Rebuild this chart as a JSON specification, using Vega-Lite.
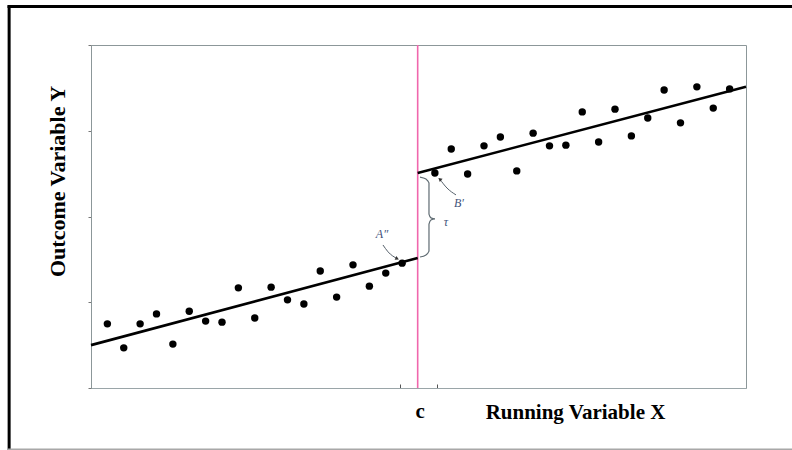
{
  "$schema": "https://vega.github.io/schema/vega-lite/v6.json",
  "autosize": {"type": "none"},
  "padding": {"left": 91, "top": 45, "right": 46, "bottom": 62},
  "width": 655,
  "height": 343,
  "background": "white",
  "config": {
    "view": {"stroke": "#8c9799", "strokeWidth": 1},
    "axis": {"grid": false}
  },
  "datasets": {
    "pts": [
      {"x": 1, "y": 18.7}, {"x": 2, "y": 11.7}, {"x": 3, "y": 18.7}, {"x": 4, "y": 21.6},
      {"x": 5, "y": 12.8}, {"x": 6, "y": 22.4}, {"x": 7, "y": 19.5}, {"x": 8, "y": 19.2},
      {"x": 9, "y": 29.2}, {"x": 10, "y": 20.4}, {"x": 11, "y": 29.4}, {"x": 12, "y": 25.7},
      {"x": 13, "y": 24.5}, {"x": 14, "y": 34.1}, {"x": 15, "y": 26.5}, {"x": 16, "y": 35.9},
      {"x": 17, "y": 29.7}, {"x": 18, "y": 33.5}, {"x": 19, "y": 36.4},
      {"x": 21, "y": 62.7}, {"x": 22, "y": 69.7}, {"x": 23, "y": 62.4}, {"x": 24, "y": 70.6},
      {"x": 25, "y": 73.2}, {"x": 26, "y": 63.3}, {"x": 27, "y": 74.3}, {"x": 28, "y": 70.6},
      {"x": 29, "y": 70.8}, {"x": 30, "y": 80.5}, {"x": 31, "y": 71.7}, {"x": 32, "y": 81.3},
      {"x": 33, "y": 73.5}, {"x": 34, "y": 78.7}, {"x": 35, "y": 86.9}, {"x": 36, "y": 77.3},
      {"x": 37, "y": 87.8}, {"x": 38, "y": 81.6}, {"x": 39, "y": 87.2}
    ],
    "fit": [
      {"side": "left", "x": 0, "y": 12.5}, {"side": "left", "x": 19.95, "y": 37.9},
      {"side": "right", "x": 19.95, "y": 62.7}, {"side": "right", "x": 40, "y": 87.8}
    ],
    "brace": [
      {"o": 1, "x": 20.09, "y": 61.5}, {"o": 2, "x": 20.46, "y": 60.9}, {"o": 3, "x": 20.64, "y": 59.8},
      {"o": 4, "x": 20.64, "y": 50.7}, {"o": 5, "x": 20.76, "y": 49.6}, {"o": 6, "x": 21.01, "y": 49.3},
      {"o": 7, "x": 20.76, "y": 49.0}, {"o": 8, "x": 20.64, "y": 47.8}, {"o": 9, "x": 20.64, "y": 39.9},
      {"o": 10, "x": 20.46, "y": 38.8}, {"o": 11, "x": 20.09, "y": 38.2}
    ],
    "arrows": [
      {"a": "B", "o": 1, "x": 22.29, "y": 56.3}, {"a": "B", "o": 2, "x": 21.74, "y": 58.3}, {"a": "B", "o": 3, "x": 21.3, "y": 60.9},
      {"a": "A", "o": 1, "x": 17.83, "y": 41.7}, {"a": "A", "o": 2, "x": 18.14, "y": 39.7}, {"a": "A", "o": 3, "x": 18.7, "y": 37.7}
    ],
    "heads": [
      {"x": 21.3, "y": 60.9, "ang": -50},
      {"x": 18.7, "y": 37.7, "ang": 115}
    ],
    "labels": [
      {"t": "A″", "x": 17.77, "y": 44.9},
      {"t": "B′", "x": 22.47, "y": 53.9},
      {"t": "τ", "x": 21.68, "y": 48.4}
    ],
    "one": [{}]
  },
  "layer": [
    {
      "data": {"name": "pts"},
      "mark": {"type": "point", "filled": true, "color": "black", "opacity": 1, "size": 55},
      "encoding": {
        "x": {"field": "x", "type": "quantitative", "scale": {"domain": [0, 40], "nice": false, "zero": false},
          "axis": {"values": [18.9, 21.1], "labels": false, "tickSize": -4, "tickColor": "#555", "domainColor": "#9aa5a8",
            "title": "Running Variable X", "titleFont": "Liberation Serif", "titleFontWeight": "bold", "titleFontSize": 21,
            "titleColor": "black", "titleX": 484, "titleY": 30, "titleAlign": "center", "titleBaseline": "alphabetic"}},
        "y": {"field": "y", "type": "quantitative", "scale": {"domain": [0, 100], "nice": false},
          "axis": {"values": [0, 25, 50, 75, 100], "labels": false, "tickSize": 3, "tickColor": "#777", "domainColor": "#8c9799",
            "title": "Outcome Variable Y", "titleFont": "Liberation Serif", "titleFontWeight": "bold", "titleFontSize": 22,
            "titleColor": "black", "titleAngle": -90, "titleX": -34, "titleY": 136, "titleAlign": "center", "titleBaseline": "middle"}}
      }
    },
    {
      "data": {"name": "one"},
      "mark": {"type": "rule", "color": "#f067ad", "strokeWidth": 1.6},
      "encoding": {"x": {"datum": 19.95, "type": "quantitative"}}
    },
    {
      "data": {"name": "fit"},
      "mark": {"type": "line", "color": "black", "strokeWidth": 2.6},
      "encoding": {
        "x": {"field": "x", "type": "quantitative"},
        "y": {"field": "y", "type": "quantitative"},
        "detail": {"field": "side"}
      }
    },
    {
      "data": {"name": "brace"},
      "mark": {"type": "line", "color": "#5f6b72", "strokeWidth": 1.2, "interpolate": "monotone"},
      "encoding": {
        "x": {"field": "x", "type": "quantitative"},
        "y": {"field": "y", "type": "quantitative"},
        "order": {"field": "o"}
      }
    },
    {
      "data": {"name": "arrows"},
      "mark": {"type": "line", "color": "#55606a", "strokeWidth": 1, "interpolate": "monotone"},
      "encoding": {
        "x": {"field": "x", "type": "quantitative"},
        "y": {"field": "y", "type": "quantitative"},
        "detail": {"field": "a"},
        "order": {"field": "o"}
      }
    },
    {
      "data": {"name": "heads"},
      "mark": {"type": "point", "shape": "triangle-up", "filled": true, "color": "#333", "opacity": 1, "size": 18},
      "encoding": {
        "x": {"field": "x", "type": "quantitative"},
        "y": {"field": "y", "type": "quantitative"},
        "angle": {"field": "ang", "type": "quantitative", "scale": null}
      }
    },
    {
      "data": {"name": "labels"},
      "mark": {"type": "text", "font": "Liberation Serif", "fontStyle": "italic", "fontSize": 12, "color": "#42527a"},
      "encoding": {
        "x": {"field": "x", "type": "quantitative"},
        "y": {"field": "y", "type": "quantitative"},
        "text": {"field": "t"}
      }
    },
    {
      "data": {"name": "one"},
      "mark": {"type": "text", "font": "Liberation Serif", "fontWeight": "bold", "fontSize": 21, "color": "black", "clip": false, "baseline": "alphabetic"},
      "encoding": {
        "x": {"datum": 20.1, "type": "quantitative"},
        "y": {"datum": -8.8, "type": "quantitative"},
        "text": {"value": "c"}
      }
    },
    {
      "data": {"name": "one"},
      "mark": {"type": "rule", "color": "black", "strokeWidth": 3, "clip": false},
      "encoding": {
        "x": {"datum": -5.0, "type": "quantitative"},
        "y": {"datum": 111.5, "type": "quantitative"},
        "y2": {"datum": -18.2}
      }
    },
    {
      "data": {"name": "one"},
      "mark": {"type": "rule", "color": "black", "strokeWidth": 3, "clip": false},
      "encoding": {
        "x": {"datum": -5.1, "type": "quantitative"},
        "x2": {"datum": 43},
        "y": {"datum": 111.2, "type": "quantitative"}
      }
    },
    {
      "data": {"name": "one"},
      "mark": {"type": "rule", "color": "#a8a8a8", "strokeWidth": 2, "clip": false},
      "encoding": {
        "x": {"datum": -5.1, "type": "quantitative"},
        "x2": {"datum": 43},
        "y": {"datum": -17.9, "type": "quantitative"}
      }
    }
  ]
}
